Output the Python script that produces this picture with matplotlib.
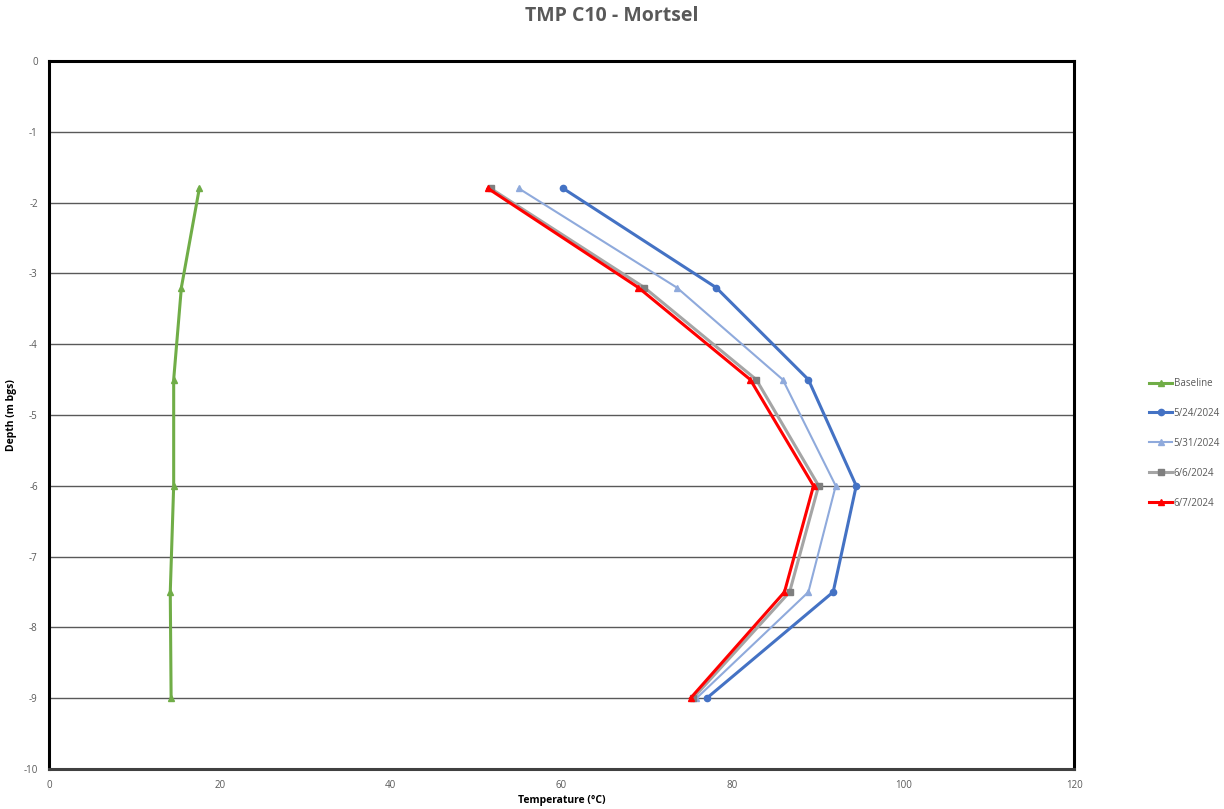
import numpy as np
import matplotlib.pyplot as plt

plt.rcParams['font.family'] = ['Open Sans', 'DejaVu Sans']
plt.rcParams['axes.unicode_minus'] = False

##depths of the sensors (m bgs)
depth = [-1.8, -3.2, -4.5, -6.0, -7.5, -9.0]

##temperatures per date (deg C)
baseline = [17.6, 15.5, 14.6, 14.6, 14.2, 14.3]
t_0524 = [60.2, 78.1, 88.9, 94.5, 91.8, 77.0]
t_0531 = [55.0, 73.5, 85.9, 92.1, 88.9, 75.8]
t_0606 = [51.7, 69.7, 82.8, 90.1, 86.7, 75.4]
t_0607 = [51.4, 69.0, 82.1, 89.5, 86.1, 75.1]

labels = ['Baseline', '5/24/2024', '5/31/2024', '6/6/2024', '6/7/2024']

x_ticks = [0, 20, 40, 60, 80, 100, 120]
y_ticks = [0, -1, -2, -3, -4, -5, -6, -7, -8, -9, -10]

fig = plt.figure(figsize=(12.24, 8.09), dpi=100)
ax = fig.add_axes([0.04, 0.0494, 0.8375, 0.8752])

ax.plot(baseline, depth, color='#70AD47', lw=2.2, marker='^', ms=4.5, label=labels[0])
ax.plot(t_0524, depth, color='#4472C4', lw=2.2, marker='o', ms=4.5, label=labels[1])
ax.plot(t_0531, depth, color='#8FAADC', lw=1.5, marker='^', ms=4.5, label=labels[2])
ax.plot(t_0606, depth, color='#A5A5A5', lw=2.2, marker='s', ms=4.5,
        mfc='#7F7F7F', mec='#7F7F7F', label=labels[3])
ax.plot(t_0607, depth, color='#FF0000', lw=2.2, marker='^', ms=4.5, label=labels[4])

ax.set_xlim(0, 120)
ax.set_ylim(-10, 0)
ax.set_xticks(x_ticks)
ax.set_yticks(y_ticks)
ax.tick_params(length=0, labelsize=7, labelcolor='#595959', pad=8)
ax.yaxis.grid(True, color='#595959', lw=1.0)
ax.set_axisbelow(True)
for s in ax.spines.values():
    s.set_linewidth(2.2)
    s.set_color('black')
ax.spines['bottom'].set_color('#404040')

ax.set_xlabel('Temperature (°C)', fontsize=7.5, fontweight='bold')
ax.set_ylabel('Depth (m bgs)', fontsize=7.5, fontweight='bold')
ax.xaxis.set_label_coords(0.5, -0.037)
ax.yaxis.set_label_coords(-0.031, 0.5)
fig.suptitle('TMP C10 - Mortsel', fontsize=14, fontweight='bold', color='#595959', y=0.992)

leg = ax.legend(loc='center left', bbox_to_anchor=(1.065, 0.46), frameon=False,
                fontsize=7, labelspacing=1.95, handlelength=2.3, handletextpad=0.2)
for t in leg.get_texts():
    t.set_color('#595959')

fig.savefig('out.png', dpi=100)
